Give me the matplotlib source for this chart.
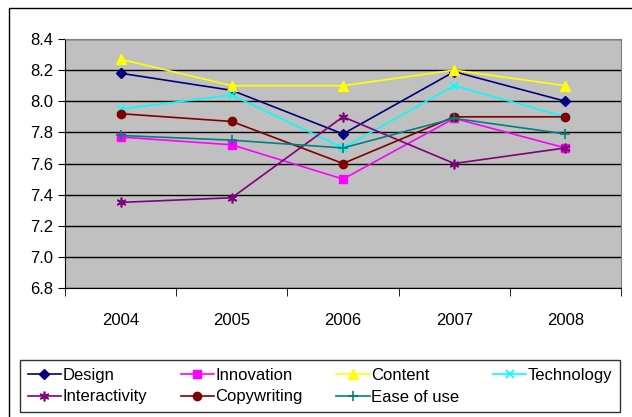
import numpy as np
import matplotlib.pyplot as plt
from matplotlib.patches import Rectangle

years = ['2004', '2005', '2006', '2007', '2008']
design = [8.18, 8.07, 7.79, 8.19, 8.00]
innovation = [7.77, 7.72, 7.50, 7.89, 7.70]
content = [8.27, 8.10, 8.10, 8.20, 8.10]
technology = [7.95, 8.04, 7.70, 8.10, 7.90]
interactivity = [7.35, 7.38, 7.90, 7.60, 7.70]
copywriting = [7.92, 7.87, 7.60, 7.90, 7.90]
ease_of_use = [7.78, 7.75, 7.70, 7.89, 7.79]

fig = plt.figure(figsize=(6.32, 4.17), dpi=100)
plt.rcParams['font.family'] = ['Liberation Sans', 'DejaVu Sans']

# outer chart frame
fig.patches.append(Rectangle((9/632, -0.01), 1.0, 1 - (-0.01) - 8/417, transform=fig.transFigure,
                             fill=False, edgecolor='black', linewidth=1.0))

ax = fig.add_axes([65/632, 1 - 288/417, (621 - 65)/632, (288 - 39)/417])
ax.set_facecolor('#C0C0C0')
x = np.arange(len(years))

h1, = ax.plot(x, design, color='#000080', marker='D', markersize=5, linewidth=1.2, label='Design')
h2, = ax.plot(x, innovation, color='#FF00FF', marker='s', markersize=6, linewidth=1.2, label='Innovation')
h3, = ax.plot(x, content, color='#FFFF00', marker='^', markersize=7, linewidth=1.2, label='Content')
h4, = ax.plot(x, technology, color='#00FFFF', marker='x', markersize=6, markeredgewidth=1.2, linewidth=1.2, label='Technology')
h5, = ax.plot(x, interactivity, color='#800080', marker=(6, 2, 0), markersize=7, markeredgewidth=1.2, linewidth=1.2, label='Interactivity')
h6, = ax.plot(x, copywriting, color='#800000', marker='o', markersize=6, linewidth=1.2, label='Copywriting')
h7, = ax.plot(x, ease_of_use, color='#008080', marker='+', markersize=7, markeredgewidth=1.2, linewidth=1.2, label='Ease of use')

ax.set_xlim(-0.5, len(years) - 0.5)
ax.set_ylim(6.8, 8.4)
ax.set_yticks(np.arange(6.8, 8.41, 0.2))
ax.set_yticklabels(['%.1f' % v for v in np.arange(6.8, 8.41, 0.2)], fontsize=12)
ax.yaxis.grid(True, color='black', linewidth=1.0)
ax.set_axisbelow(True)

ax.set_xticks(x)
ax.set_xticklabels(years, fontsize=12)
ax.set_xticks(np.arange(-0.5, len(years), 1), minor=True)
ax.tick_params(axis='x', which='major', length=0, pad=18)
ax.tick_params(axis='x', which='minor', length=6, direction='out', color='black')
ax.tick_params(axis='y', length=5, direction='out', color='black')

for s in ['top', 'right']:
    ax.spines[s].set_color('#808080')
for s in ['left', 'bottom']:
    ax.spines[s].set_color('black')

# row-major order like the original legend
handles = [h1, h5, h2, h6, h3, h7, h4]
leg = fig.legend(handles, [h.get_label() for h in handles],
                 loc='lower left', bbox_to_anchor=(20/632, 5/417, (620 - 20)/632, (412 - 360)/417),
                 mode='expand', ncol=4, fontsize=12, frameon=True, fancybox=False,
                 edgecolor='black', handlelength=2.0, handletextpad=0.1, borderaxespad=0,
                 borderpad=0.45, labelspacing=0.4, columnspacing=0.5)
leg.get_frame().set_linewidth(1.0)

fig.savefig('out.png', dpi=100)
